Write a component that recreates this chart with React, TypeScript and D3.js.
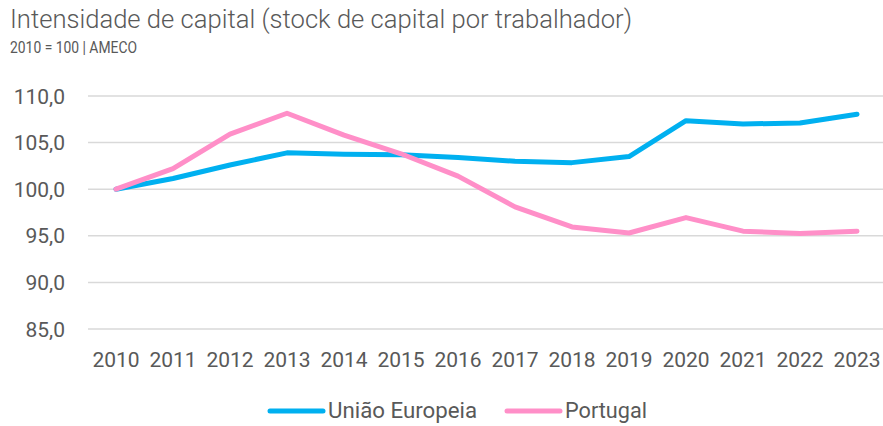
import React from "react";
import * as d3 from "d3";

const years = ["2010","2011","2012","2013","2014","2015","2016","2017","2018","2019","2020","2021","2022","2023"];
const euValues = [100.0, 101.15, 102.6, 103.9, 103.75, 103.7, 103.4, 103.0, 102.85, 103.5, 107.35, 107.0, 107.1, 108.05];
const ptValues = [100.0, 102.2, 105.9, 108.15, 105.8, 103.8, 101.4, 98.1, 95.95, 95.3, 96.95, 95.5, 95.25, 95.5];
const yTicks = [85, 90, 95, 100, 105, 110];
const seriesNames = ["União Europeia", "Portugal"];
const seriesColors = ["#00B0F0", "#FF8FC8"];

const W = 883, H = 426;
const FONT = "Roboto, 'Open Sans', sans-serif";
const TEXT = "#595959";

export default function App() {
  const x = d3.scalePoint<string>().domain(years).range([87.5, 885.5]).padding(0.5);
  const y = d3.scaleLinear().domain([85, 110]).range([329, 96]);
  const line = d3.line<number>().x((_, i) => x(years[i])!).y(d => y(d));
  const fmt = (v: number) => v.toFixed(1).replace(".", ",");
  const series = [euValues, ptValues];
  const legendX = [270, 507];
  const legendW = [149, 82];
  return (
    <svg width={W} height={H} style={{ position: "absolute", left: 0, top: 0, background: "#fff" }} fontFamily={FONT}>
      <text x={10} y={28} fontSize={26} fill={TEXT} fontWeight={300} textLength={622} lengthAdjust="spacingAndGlyphs">Intensidade de capital (stock de capital por trabalhador)</text>
      <text x={10} y={53} fontSize={16} fill={TEXT} textLength={127} lengthAdjust="spacingAndGlyphs">2010 = 100 | AMECO</text>
      {yTicks.map(t => (
        <g key={t}>
          <line x1={88} x2={883} y1={y(t)} y2={y(t)} stroke="#D9D9D9" strokeWidth={1.5} />
          <text x={65} y={y(t)} dy="0.36em" textAnchor="end" fontSize={21} fill={TEXT}>{fmt(t)}</text>
        </g>
      ))}
      {years.map(yr => (
        <text key={yr} x={x(yr)} y={367} textAnchor="middle" fontSize={21} fill={TEXT}>{yr}</text>
      ))}
      {series.map((s, i) => (
        <path key={i} d={line(s)!} fill="none" stroke={seriesColors[i]} strokeWidth={5} strokeLinecap="round" strokeLinejoin="round" />
      ))}
      {seriesNames.map((n, i) => (
        <g key={n}>
          <line x1={legendX[i]} x2={legendX[i] + 53} y1={411} y2={411} stroke={seriesColors[i]} strokeWidth={5} strokeLinecap="round" />
          <text x={legendX[i] + 58} y={418} fontSize={22} fill={TEXT} textLength={legendW[i]} lengthAdjust="spacingAndGlyphs">{n}</text>
        </g>
      ))}
    </svg>
  );
}
